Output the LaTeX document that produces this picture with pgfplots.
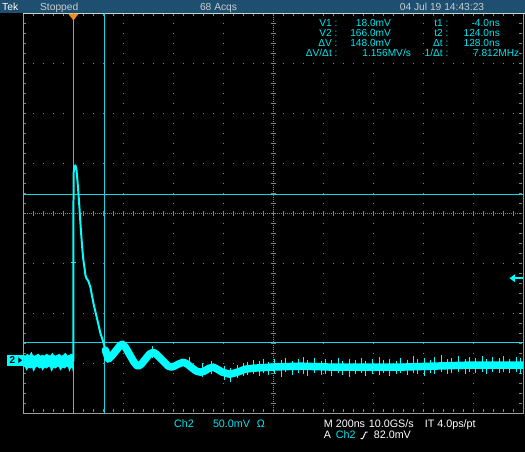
\documentclass[border=0pt]{standalone}
\usepackage{pgfplots}
\pgfplotsset{compat=1.18}
\usepackage{fontspec}
\setmainfont{Liberation Sans}
\definecolor{trace}{RGB}{0,255,255}
\definecolor{curs}{RGB}{20,215,230}
\definecolor{head}{RGB}{30,78,112}
\definecolor{gridc}{RGB}{135,135,125}
\definecolor{bord}{RGB}{160,158,145}
\definecolor{topl}{RGB}{200,214,196}
\definecolor{txtc}{RGB}{0,230,240}
\definecolor{lgray}{RGB}{200,205,210}
\definecolor{trig}{RGB}{240,140,30}
\begin{document}
\begin{tikzpicture}
\begin{scope}[x=1bp, y=-1bp, yshift=452bp]
\fill[black] (0,0) rectangle (525,452);
\fill[head] (0,0) rectangle (525,13);
\end{scope}
\begin{scope}[x=1bp, y=-1bp, yshift=451.5bp, xshift=0.5bp]
% graticule
\begin{scope}[gridc, line width=1bp]
\foreach \x in {73,123,173,223,323,373,423,473}
  \draw[dash pattern=on 1bp off 9bp] (\x,22.5) -- (\x,410);
\foreach \y in {63,113,163,263,313,363}
  \draw[dash pattern=on 1bp off 9bp] (32.5,\y) -- (520,\y);
\draw[dash pattern=on 1bp off 1bp] (273,13) -- (273,413);
\draw[dash pattern=on 1bp off 1bp] (23,213) -- (523,213);
\foreach \y in {23,33,...,403} \draw[line width=0.8bp] (270.5,\y) -- (275.5,\y);
\foreach \x in {33,43,...,513} \draw[line width=0.8bp] (\x,210.5) -- (\x,215.5);
\foreach \x in {33,43,...,513} {\draw[line width=0.8bp] (\x,14) -- (\x,16); \draw[line width=0.8bp] (\x,409) -- (\x,412);}
\foreach \y in {23,33,...,403} {\draw[line width=0.8bp] (24,\y) -- (26,\y); \draw[line width=0.8bp] (519,\y) -- (522,\y);}
\end{scope}
\draw[bord, line width=1bp] (23,13.5) -- (23,413) -- (523,413) -- (523,13.5);
\draw[topl, line width=1bp] (23,13) -- (524.5,13);
\end{scope}

\begin{axis}[at={(23.5bp,38.5bp)}, anchor=south west, scale only axis,
  width=500bp, height=400bp, xmin=-204, xmax=1796, ymin=-53, ymax=347,
  hide axis, clip=true, unbounded coords=jump]
% cursors
\addplot[curs, line width=1.1bp] coordinates {(-4,-53) (-4,347)};
\addplot[curs, line width=1.1bp] coordinates {(120,-53) (120,347)};
\addplot[curs, line width=1.1bp] coordinates {(-204,18) (1796,18)};
\addplot[curs, line width=1.1bp] coordinates {(-204,166) (1796,166)};
% pre-trigger noise band
\addplot[draw=trace, fill=trace, line width=0.6pt, line join=round] coordinates {
(-204,5) (-196,4) (-188,6) (-180,4) (-172,8) (-168,5) (-160,4) (-152,5) (-144,6) (-136,4)
(-128,5) (-120,4) (-112,6) (-104,5) (-96,4) (-88,7) (-84,5) (-76,4) (-68,5) (-60,6)
(-52,4) (-44,5) (-36,7) (-28,4) (-20,5) (-12,6) (-4,5)
(-4,-13) (-8,-7) (-16,-8) (-20,-11) (-24,-7) (-32,-6) (-40,-8) (-48,-7) (-56,-10) (-60,-7)
(-68,-6) (-76,-8) (-84,-7) (-92,-11) (-96,-7) (-104,-6) (-112,-8) (-120,-7) (-128,-10) (-132,-7)
(-140,-8) (-148,-6) (-156,-7) (-164,-11) (-168,-7) (-176,-8) (-184,-7) (-192,-10) (-196,-7) (-204,-6)};
% pulse edge
\addplot[trace, line width=2pt, line join=round] coordinates {
(-4,-1) (-4,150) (-3,188) (0,194) (4,195) (8,191) (12,180) (16,167) (20,153) (24,137)
(28,123) (32,110) (36,100) (40,93) (44,85) (48,82) (56,79) (64,73) (76,57) (92,40)
(104,27) (116,18) (124,10) (132,5)};
% ringing and tail
\addplot[trace, line width=7.5pt, line join=round, line cap=round] coordinates {
(124,10) (136,1) (152,5) (168,10) (184,15) (192,16) (204,13) (220,6) (236,-1) (248,-5)
(256,-6) (268,-4) (284,1) (300,6) (316,8) (328,6) (344,2) (360,-2) (376,-6) (388,-7)
(400,-6) (416,-4) (436,-2) (452,-4) (472,-8) (488,-11) (504,-12) (520,-11) (540,-8) (556,-7)
(572,-9) (592,-12) (620,-14) (640,-13) (664,-11) (684,-9) (720,-8) (784,-7) (904,-6) (1036,-7)
(1304,-7) (1436,-6) (1572,-5) (1796,-5)};
% noise spikes
\addplot[trace, line width=0.8pt] coordinates {
(-12,98) (8,98) (8,nan)
(312,14) (312,2) (312,nan) (460,3) (460,-10) (460,nan) (512,-3) (512,-17) (512,nan) (548,-1) (548,-14) (548,nan)
(600,-6) (600,-20) (600,nan) (626,-8) (626,-22) (626,nan) (652,-5) (652,-18) (652,nan)
(676,-3) (676,-16) (676,nan) (692,-2) (692,-15) (692,nan) (718,0) (718,-14) (718,nan)
(742,-1) (742,-16) (742,nan) (758,1) (758,-13) (758,nan) (776,-2) (776,-15) (776,nan)
(801,1) (801,-14) (801,nan) (830,0) (830,-17) (830,nan) (846,2) (846,-12) (846,nan)
(871,-1) (871,-15) (871,nan) (895,1) (895,-13) (895,nan) (918,3) (918,-14) (918,nan)
(934,0) (934,-16) (934,nan) (962,2) (962,-13) (962,nan) (990,-1) (990,-15) (990,nan)
(1004,1) (1004,-14) (1004,nan) (1030,0) (1030,-16) (1030,nan) (1058,2) (1058,-13) (1058,nan)
(1073,-1) (1073,-15) (1073,nan) (1100,1) (1100,-17) (1100,nan) (1126,0) (1126,-14) (1126,nan)
(1150,2) (1150,-13) (1150,nan) (1166,-1) (1166,-16) (1166,nan) (1194,1) (1194,-14) (1194,nan)
(1220,3) (1220,-15) (1220,nan) (1236,0) (1236,-13) (1236,nan) (1262,1) (1262,-16) (1262,nan)
(1290,-1) (1290,-14) (1290,nan) (1305,2) (1305,-13) (1305,nan) (1332,0) (1332,-15) (1332,nan)
(1358,4) (1358,-13) (1358,nan) (1372,1) (1372,-14) (1372,nan) (1400,2) (1400,-16) (1400,nan)
(1426,0) (1426,-13) (1426,nan) (1442,3) (1442,-14) (1442,nan) (1468,5) (1468,-12) (1468,nan)
(1494,1) (1494,-14) (1494,nan) (1510,2) (1510,-13) (1510,nan) (1538,4) (1538,-12) (1538,nan)
(1564,1) (1564,-14) (1564,nan) (1580,3) (1580,-12) (1580,nan) (1606,2) (1606,-13) (1606,nan)
(1632,4) (1632,-12) (1632,nan) (1648,1) (1648,-14) (1648,nan) (1674,3) (1674,-12) (1674,nan)
(1700,2) (1700,-13) (1700,nan) (1716,4) (1716,-12) (1716,nan) (1742,1) (1742,-13) (1742,nan)
(1768,3) (1768,-12) (1768,nan) (1786,2) (1786,-14)};
\end{axis}

\begin{scope}[x=1bp, y=-1bp, yshift=452bp]
% markers
\fill[trig] (68.5,14) -- (78.5,14) -- (73.5,20.5) -- cycle;
\fill[trace] (510,278.5) -- (515.5,274.5) -- (515.5,282.5) -- cycle;
\draw[trace, line width=1.6pt] (514,278.5) -- (523,278.5);
\fill[trace] (7,355) rectangle (23,366);
\node[black, inner sep=0, font=\fontsize{10}{10}\selectfont\bfseries] at (12.5,360.8) {2};
\fill[black] (18.5,357.8) -- (22,360.6) -- (18.5,363.4) -- cycle;

% header text
\begin{scope}[every node/.style={inner sep=0, font=\fontsize{10.3}{12}\selectfont}]
\node[white, anchor=base west] at (2,10.5) {Tek};
\node[lgray, anchor=base west] at (40,10.5) {Stopped};
\node[lgray, anchor=base west] at (200,10.5) {68 Acqs};
\node[lgray, anchor=base west] at (400,10.5) {04 Jul 19 14:43:23};
\end{scope}

% cursor readouts
\begin{scope}[every node/.style={inner sep=0, font=\fontsize{10.2}{12}\selectfont, text=txtc}]
\node[anchor=base east] at (338,27) {V1 :};
\node[anchor=base east] at (391.5,27) {18.0mV};
\node[anchor=base east] at (449,27) {t1 :};
\node[anchor=base east] at (500.5,27) {-4.0ns};
\node[anchor=base east] at (338,37) {V2 :};
\node[anchor=base east] at (391.5,37) {166.0mV};
\node[anchor=base east] at (449,37) {t2 :};
\node[anchor=base east] at (500.5,37) {124.0ns};
\node[anchor=base east] at (338,47) {ΔV :};
\node[anchor=base east] at (391.5,47) {148.0mV};
\node[anchor=base east] at (449,47) {Δt :};
\node[anchor=base east] at (500.5,47) {128.0ns};
\node[anchor=base east] at (338,57) {ΔV/Δt :};
\node[anchor=base east] at (411.5,57) {1.156MV/s};
\node[anchor=base east] at (449,57) {1/Δt :};
\node[anchor=base east] at (520,57) {7.812MHz};
\end{scope}

% bottom status
\begin{scope}[every node/.style={inner sep=0, font=\fontsize{10.8}{12}\selectfont, anchor=base west}]
\node[txtc] at (174,428) {Ch2};
\node[txtc] at (213,428) {50.0mV};
\node[txtc] at (257,428) {Ω};
\node[white] at (324,428) {M 200ns};
\node[white] at (369,428) {10.0GS/s};
\node[white] at (425,428) {IT 4.0ps/pt};
\node[white] at (324,439) {A};
\node[txtc] at (336,439) {Ch2};
\node[white] at (374,439) {82.0mV};
\end{scope}
\draw[white, line width=0.9pt] (361,439) -- (363,439) -- (366,432.5) -- (368,432.5);
\end{scope}
\end{tikzpicture}
\end{document}
